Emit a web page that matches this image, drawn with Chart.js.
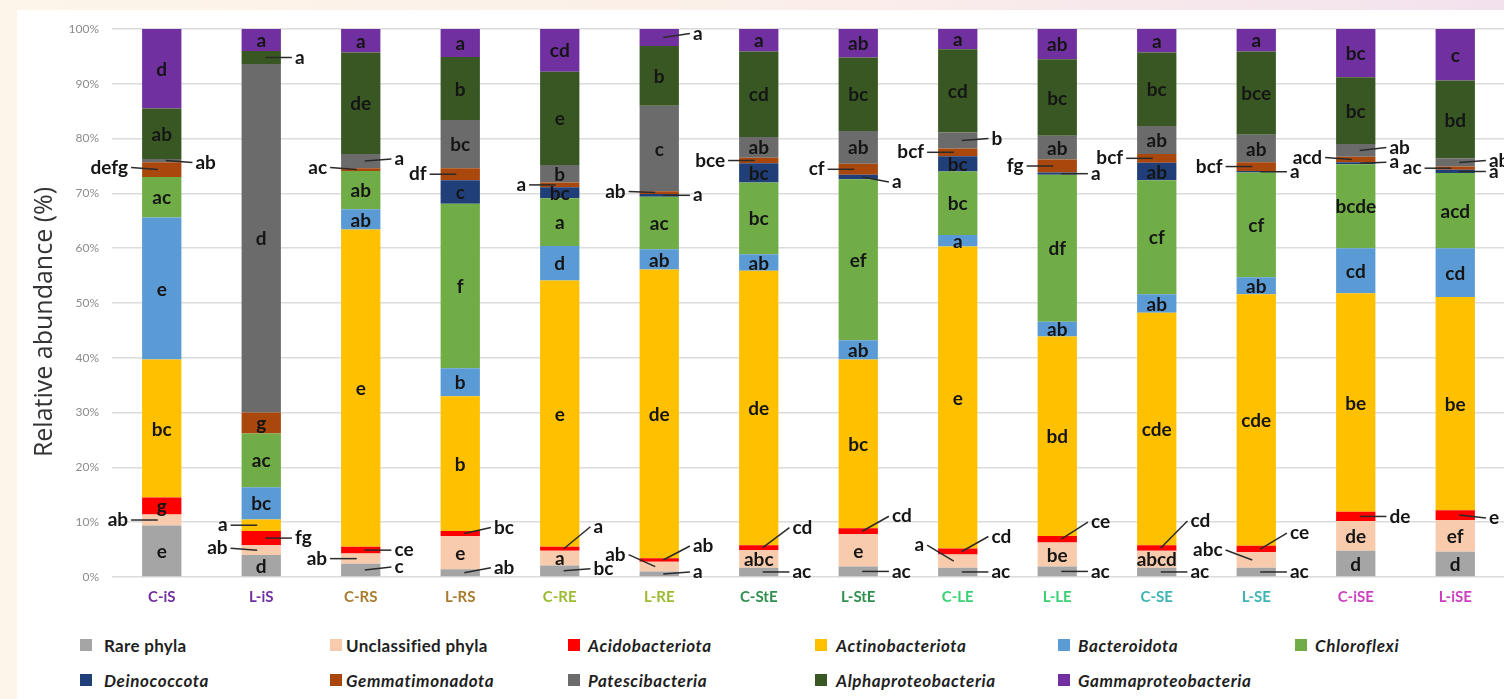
<!DOCTYPE html>
<html>
<head>
<meta charset="utf-8">
<script src="https://cdn.jsdelivr.net/npm/chart.js@4.4.1/dist/chart.umd.min.js"></script>
<style>
  body { margin: 0; width: 1504px; height: 699px; overflow: hidden; position: relative;
         background: linear-gradient(90deg, #fdf5e9 0%, #fbefe9 50%, #f3e2ee 100%); font-family: Lato, sans-serif; }
  #panel { position: absolute; left: 17px; top: 10px; right: 0; bottom: 0; background: #fff; }
  #wrap { position: absolute; left: 0; top: 0; width: 1512px; height: 617px; }
  .lg { position: absolute; font-size: 17px; font-weight: bold; color: #1f1f1f; white-space: nowrap;
        letter-spacing: 0.3px; transform: translateY(-50%); }
  .sq { position: absolute; width: 12px; height: 12px; transform: translateY(-50%); }
  .it { font-style: italic; letter-spacing: 0.6px; }
</style>
</head>
<body>
<div id="panel"></div>
<div id="wrap"><canvas id="chart" width="1512" height="617"></canvas></div>
<div id="legend"></div>
<script>
const categories = ['C-iS', 'L-iS', 'C-RS', 'L-RS', 'C-RE', 'L-RE', 'C-StE', 'L-StE', 'C-LE', 'L-LE', 'C-SE', 'L-SE', 'C-iSE', 'L-iSE'];
const categoryColors = ['#7030a0', '#7030a0', '#a87b2d', '#a87b2d', '#9bbb32', '#9bbb32', '#2f8f4e', '#2f8f4e',
  '#3ad074', '#3ad074', '#3fb4b4', '#3fb4b4', '#cc3fc0', '#cc3fc0'];

// relative abundance (%) per sample, bottom of stack first
const rarePhyla =           [9.4, 4.0, 2.4, 1.4, 2.1, 1.0, 1.7, 1.9, 1.7, 1.9, 1.7, 1.7, 4.8, 4.6];
const unclassified =        [2.0, 1.8, 1.9, 6.1, 2.7, 1.8, 3.2, 5.9, 2.4, 4.4, 3.1, 2.8, 5.4, 5.8];
const acidobacteriota =     [3.1, 2.6, 1.2, 0.9, 0.7, 0.6, 0.9, 1.1, 1.1, 1.2, 1.0, 1.2, 1.7, 1.8];
const actinobacteriota =    [25.2, 2.1, 57.9, 24.6, 48.6, 52.7, 50.1, 30.8, 55.1, 36.4, 42.4, 45.9, 39.9, 38.9];
const bacteroidota =        [25.9, 5.9, 3.7, 5.1, 6.3, 3.7, 3.0, 3.5, 2.1, 2.7, 3.4, 3.1, 8.2, 8.9];
const chloroflexi =         [7.4, 9.8, 7.0, 30.0, 8.7, 9.6, 13.1, 29.4, 11.6, 26.8, 20.8, 19.1, 15.3, 13.7];
const deinococcota =        [0, 0, 0, 4.3, 2.0, 0.5, 3.5, 0.8, 2.8, 0.4, 3.2, 0.3, 0.4, 0.6];
const gemmatimonadota =     [2.7, 3.8, 0.5, 2.2, 0.9, 0.5, 1.0, 2.0, 1.4, 2.4, 1.6, 1.6, 1.0, 0.6];
const patescibacteria =     [0.6, 63.6, 2.6, 8.8, 3.2, 15.6, 3.8, 6.0, 2.9, 4.3, 5.1, 5.0, 2.3, 1.5];
const alphaproteobacteria = [9.2, 2.4, 18.5, 11.5, 17.0, 10.9, 15.6, 13.4, 15.2, 14.0, 13.4, 15.2, 12.2, 14.2];
const gammaproteobacteria = [14.5, 4.0, 4.3, 5.1, 7.8, 3.1, 4.1, 5.2, 3.7, 5.5, 4.3, 4.1, 8.8, 9.4];

// significance letters; "<" / ">" = written beside the bar with a leader line
const rareLetters =   ['e', 'd', '>c', '>ab', '>bc', '>a', '>ac', '>ac', '>ac', '>ac', '>ac', '>ac', 'd', 'd'];
const unclLetters =   ['<ab', '<ab', '<ab', 'e', 'a', '<ab', 'abc', 'e', '<a', 'be', 'abcd', '<abc', 'de', 'ef'];
const acidoLetters =  ['g', '>fg', '>ce', '>bc', '>a', '>ab', '>cd', '>cd', '>cd', '>ce', '>cd', '>ce', '>de', '>e'];
const actinoLetters = ['bc', '<a', 'e', 'b', 'e', 'de', 'de', 'bc', 'e', 'bd', 'cde', 'cde', 'be', 'be'];
const bactLetters =   ['e', 'bc', 'ab', 'b', 'd', 'ab', 'ab', 'ab', 'a', 'ab', 'ab', 'ab', 'cd', 'cd'];
const chlorLetters =  ['ac', 'ac', 'ab', 'f', 'a', 'ac', 'bc', 'ef', 'bc', 'df', 'cf', 'cf', 'bcde', 'acd'];
const deinoLetters =  ['', '', '', 'c', 'bc', '>a', 'bc', '>a', 'bc', '>a', 'ab', '>a', '>a', '>a'];
const gemmLetters =   ['<defg', 'g', '<ac', '<df', '<a', '<ab', '<bce', '<cf', '<bcf', '<fg', '<bcf', '<bcf', '<acd', '<ac'];
const patesLetters =  ['>ab', 'd', '>a', 'bc', 'b', 'c', 'ab', 'ab', '>b', 'ab', 'ab', 'ab', '>ab', '>ab'];
const alphaLetters =  ['ab', '>a', 'de', 'b', 'e', 'b', 'cd', 'bc', 'cd', 'bc', 'bc', 'bce', 'bc', 'bd'];
const gammaLetters =  ['d', 'a', 'a', 'a', 'cd', '>a', 'a', 'ab', 'a', 'ab', 'a', 'a', 'bc', 'c'];

// vertical shift (px) of some side labels, "dataset-bar"
const calloutLift = {
  '0-2': -3, '0-3': -5, '0-4': -2, '0-5': -2,
  '1-1': -2, '1-5': -12, '1-8': -16, '1-11': -10,
  '2-3': -6, '2-4': -22, '2-5': -14, '2-6': -20, '2-7': -15, '2-8': -15, '2-9': -17, '2-10': -27, '2-11': -16, '2-13': 3,
  '6-7': 5, '6-12': -1,
  '7-0': -2, '7-2': -2, '7-5': -1, '7-12': -2,
  '8-0': 2, '8-2': -2, '8-8': -2, '8-12': -3, '8-13': -2,
  '10-5': -4
};

const series = [
  { name: 'Rare phyla', data: rarePhyla, letters: rareLetters, color: '#a5a5a5', italic: false },
  { name: 'Unclassified phyla', data: unclassified, letters: unclLetters, color: '#f8cbad', italic: false },
  { name: 'Acidobacteriota', data: acidobacteriota, letters: acidoLetters, color: '#ff0000', italic: true },
  { name: 'Actinobacteriota', data: actinobacteriota, letters: actinoLetters, color: '#ffc000', italic: true },
  { name: 'Bacteroidota', data: bacteroidota, letters: bactLetters, color: '#5b9bd5', italic: true },
  { name: 'Chloroflexi', data: chloroflexi, letters: chlorLetters, color: '#70ad47', italic: true },
  { name: 'Deinococcota', data: deinococcota, letters: deinoLetters, color: '#203f78', italic: true },
  { name: 'Gemmatimonadota', data: gemmatimonadota, letters: gemmLetters, color: '#a9470c', italic: true },
  { name: 'Patescibacteria', data: patescibacteria, letters: patesLetters, color: '#6b6b6b', italic: true },
  { name: 'Alphaproteobacteria', data: alphaproteobacteria, letters: alphaLetters, color: '#385723', italic: true },
  { name: 'Gammaproteobacteria', data: gammaproteobacteria, letters: gammaLetters, color: '#7030a0', italic: true }
];

// letters on / beside the stacked segments
const letterPlugin = {
  id: 'letters',
  afterDatasetsDraw(chart) {
    const ctx = chart.ctx;
    ctx.save();
    ctx.font = 'bold 19px Lato';
    ctx.fillStyle = '#151515';
    ctx.strokeStyle = '#2a2a2a';
    ctx.lineWidth = 1.5;
    ctx.textBaseline = 'middle';
    series.forEach((s, i) => {
      const meta = chart.getDatasetMeta(i);
      meta.data.forEach((el, j) => {
        let txt = s.letters[j];
        if (!txt) return;
        const p = el.getProps(['x', 'y', 'base', 'width'], true);
        const mid = (p.y + p.base) / 2;
        if (txt[0] === '<' || txt[0] === '>') {
          const side = txt[0] === '<' ? -1 : 1;
          txt = txt.slice(1);
          const ly = mid + (calloutLift[i + '-' + j] || 0);
          const edge = p.x + side * p.width / 2;
          ctx.beginPath();
          ctx.moveTo(p.x + side * 4, mid);
          ctx.lineTo(edge + side * 11, ly);
          ctx.stroke();
          ctx.textAlign = side < 0 ? 'right' : 'left';
          ctx.fillText(txt, edge + side * 14, ly);
        } else {
          ctx.textAlign = 'center';
          ctx.fillText(txt, p.x, mid + 1);
        }
      });
    });
    ctx.restore();
  }
};

// y axis title, placed a little below the middle of the plot as in the figure
const yTitlePlugin = {
  id: 'yTitle',
  afterDraw(chart) {
    const ctx = chart.ctx;
    ctx.save();
    ctx.translate(45, 322);
    ctx.rotate(-Math.PI / 2);
    ctx.font = '25px "Open Sans"';
    ctx.fillStyle = '#333333';
    ctx.textAlign = 'center';
    ctx.textBaseline = 'middle';
    ctx.fillText('Relative abundance (%)', 0, 0);
    ctx.restore();
  }
};

Chart.defaults.font.family = 'Lato';

let config = {
  type: 'bar',
  data: {
    labels: categories,
    datasets: series.map(s => ({
      label: s.name,
      data: s.data,
      backgroundColor: s.color,
      borderWidth: 0,
      barPercentage: 0.395,
      categoryPercentage: 1
    }))
  },
  options: {
    responsive: false,
    animation: false,
    layout: { padding: { top: 29, right: 7, left: 0, bottom: 0 } },
    plugins: {
      legend: { display: false },
      tooltip: { enabled: false }
    },
    scales: {
      x: {
        stacked: true,
        grid: { display: false },
        border: { display: false },
        ticks: {
          padding: 3,
          color: ctx => categoryColors[ctx.index],
          font: { size: 15, weight: 'bold' }
        },
        afterFit: s => { s.height = 40; }
      },
      y: {
        stacked: true,
        min: 0,
        max: 100,
        border: { display: false },
        grid: { color: '#dcdcdc', lineWidth: 1.5, drawTicks: false },
        ticks: {
          stepSize: 10,
          padding: 13,
          color: '#8c8c8c',
          font: { size: 12 },
          callback: v => v + '%'
        },
        afterFit: s => { s.width = 112; }
      }
    }
  },
  plugins: [letterPlugin, yTitlePlugin]
};

let ctx = document.getElementById('chart').getContext('2d');
window.myBar = new Chart(ctx, config);

// legend laid out in fixed columns like the original figure
const legendCols = [[80, 104], [330, 346], [568, 588], [815, 836], [1058, 1078], [1295, 1315]];
const legendRows = [645, 680];
const legend = document.getElementById('legend');
series.forEach((s, i) => {
  const col = legendCols[i < 6 ? i : i - 6];
  const top = legendRows[i < 6 ? 0 : 1];
  const sq = document.createElement('div');
  sq.className = 'sq';
  sq.style.left = col[0] + 'px';
  sq.style.top = top + 'px';
  sq.style.background = s.color;
  legend.appendChild(sq);
  const lb = document.createElement('div');
  lb.className = 'lg' + (s.italic ? ' it' : '');
  lb.style.left = col[1] + 'px';
  lb.style.top = top + 'px';
  lb.textContent = s.name;
  legend.appendChild(lb);
});
</script>
</body>
</html>
